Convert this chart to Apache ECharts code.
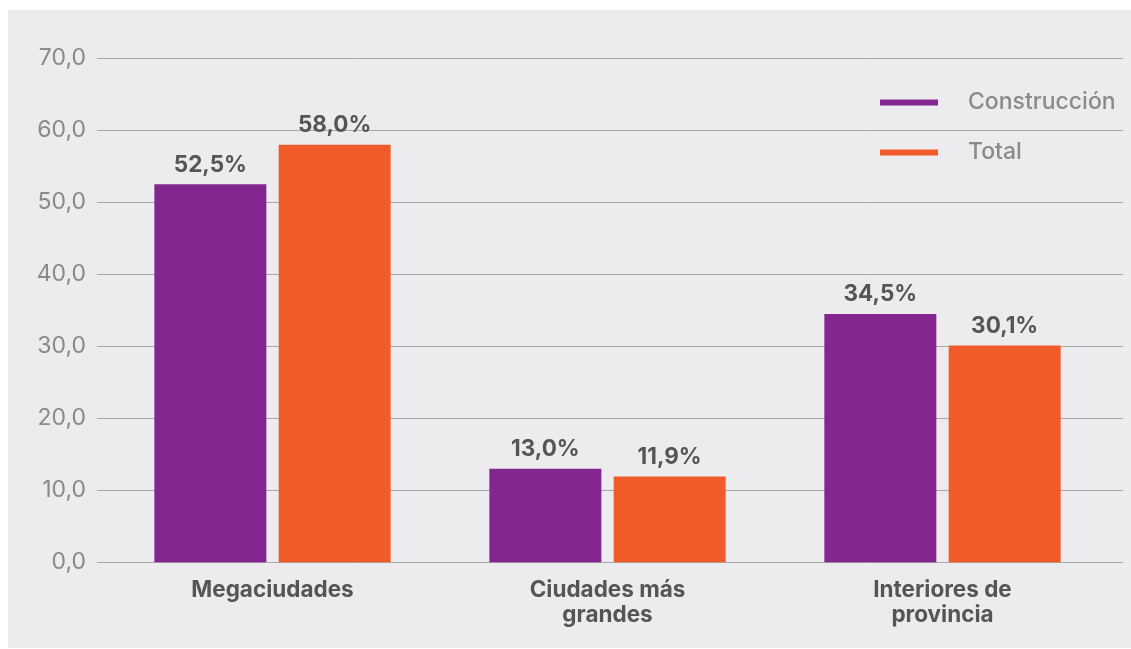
<!DOCTYPE html>
<html>
<head>
<meta charset="utf-8">
<script src="https://cdn.jsdelivr.net/npm/echarts@6/dist/echarts.min.js"></script>
<style>
  html, body { margin: 0; padding: 0; background: #ffffff; }
  #panel { position: absolute; left: 8px; top: 10px; width: 1123px; height: 638px; background: #ececee; }
  #chart { position: absolute; left: 0; top: 0; width: 1131px; height: 649px; }
</style>
</head>
<body>
<div id="panel"></div>
<div id="chart"></div>
<script>
// categorias y valores (%)
var categorias = ['Megaciudades', 'Ciudades más\ngrandes', 'Interiores de\nprovincia'];
var construccion = [52.5, 13.0, 34.5];
var total = [58.0, 11.9, 30.1];
var nombres = ['Construcción', 'Total'];

var fuente = 'Inter, "Liberation Sans", sans-serif';

function fmt(v) {
  return v.toFixed(1).replace('.', ',');
}

var chart = echarts.init(document.getElementById('chart'));

var etiqueta = {
  show: true, position: 'top', distance: 8,
  color: '#555557', fontSize: 22.5, fontWeight: 'bold', fontFamily: fuente,
  formatter: function (p) { return fmt(p.value) + '%'; }
};

var option = {
  animation: false,
  backgroundColor: 'transparent',
  legend: {
    orient: 'vertical',
    left: 875,
    top: 86,
    icon: 'rect',
    itemWidth: 58,
    itemHeight: 6,
    itemGap: 27,
    textStyle: { color: '#8a8a8c', fontSize: 23, fontWeight: 500, fontFamily: fuente, padding: [0, 0, 0, 25], lineHeight: 23 },
    data: nombres
  },
  grid: [
    // grid de las barras
    { left: 105, right: 21, top: 58.3, bottom: 86.7 },
    // grid solo para las lineas horizontales
    { left: 97, right: 8, top: 58.3, bottom: 86.7 }
  ],
  xAxis: [
    {
      type: 'category',
      gridIndex: 0,
      data: categorias,
      axisLine: { show: false },
      axisTick: { show: false },
      axisLabel: {
        color: '#555557', fontSize: 22.5, fontWeight: 'bold', fontFamily: fuente,
        lineHeight: 25, margin: 15
      }
    },
    {
      type: 'category',
      gridIndex: 1,
      data: categorias,
      show: false
    }
  ],
  yAxis: [
    {
      type: 'value',
      gridIndex: 0,
      min: 0, max: 70, interval: 10,
      axisLabel: { show: false },
      splitLine: { show: false },
      axisLine: { show: false },
      axisTick: { show: false }
    },
    {
      type: 'value',
      gridIndex: 1,
      min: 0, max: 70, interval: 10,
      axisLine: { show: false },
      axisTick: { show: false },
      splitLine: { lineStyle: { color: '#a8a8aa', width: 1 } },
      axisLabel: {
        color: '#8a8a8c', fontSize: 23, fontFamily: fuente, margin: 11,
        formatter: function (v) { return fmt(v); }
      }
    }
  ],
  series: [
    {
      name: nombres[0],
      type: 'bar',
      xAxisIndex: 0, yAxisIndex: 0,
      data: construccion,
      barWidth: 112,
      barGap: '11%',
      itemStyle: { color: '#84268f' },
      label: etiqueta
    },
    {
      name: nombres[1],
      type: 'bar',
      xAxisIndex: 0, yAxisIndex: 0,
      data: total,
      barWidth: 112,
      barGap: '11%',
      itemStyle: { color: '#f15a29' },
      label: etiqueta
    }
  ]
};

chart.setOption(option);
</script>
</body>
</html>
